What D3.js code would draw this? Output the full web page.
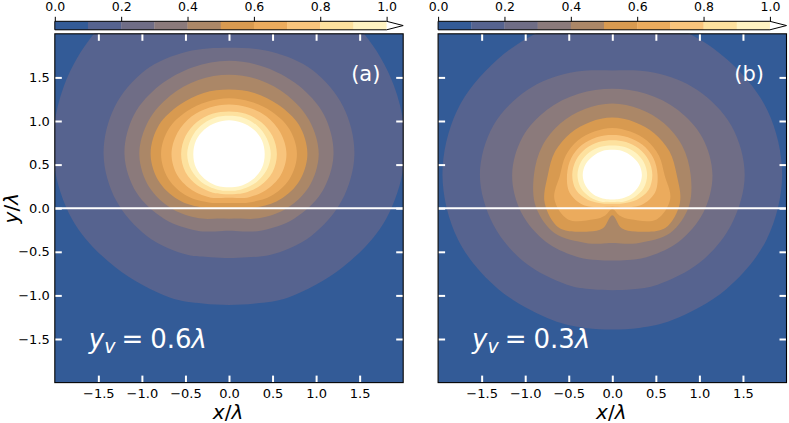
<!DOCTYPE html>
<html><head><meta charset="utf-8">
<script src="https://cdn.jsdelivr.net/npm/d3@7"></script>
<style>body{margin:0;background:#fff}svg{display:block}text{font-family:"DejaVu Sans",sans-serif}</style>
</head><body><svg id="c" width="789" height="423"></svg>
<script>
// ---- data ----
const levels = [0.1,0.2,0.3,0.4,0.5,0.6,0.7,0.8,0.9,1.0];
const bandColors = ["#335b97","#56638f","#6f6d86","#8b7a7b","#ab8767","#d89a50","#ebab5d","#f8c47c","#fde19e","#fff3c2","#ffffff"];
const cbBounds = [0,0.1,0.2,0.3,0.4,0.5,0.6,0.7,0.8,0.9,1.0];
const cbTicks = [0,0.2,0.4,0.6,0.8,1.0];
const xTicks = [-1.5,-1,-0.5,0,0.5,1,1.5];
const yTicks = [-1.5,-1,-0.5,0,0.5,1,1.5];
// contour radii (in λ) at these angles (deg, from +x, counter-clockwise); mirrored about x = 0
const angles = [-90,-80,-67.5,-45,-22.5,0,22.5,45,67.5,90];
const centerA = [0,0.62];
const radiiA = [
  [1.73,1.74,1.78,1.84,1.95,2.02,2.05,2.08,2.10,2.10],
  [1.19,1.20,1.25,1.33,1.40,1.44,1.42,1.36,1.27,1.22],
  [0.88,0.90,0.95,1.05,1.15,1.20,1.18,1.12,1.08,1.07],
  [0.74,0.75,0.80,0.90,0.99,1.03,1.00,0.95,0.92,0.91],
  [0.62,0.63,0.67,0.77,0.86,0.90,0.87,0.80,0.76,0.74],
  [0.56,0.57,0.60,0.68,0.75,0.78,0.75,0.69,0.65,0.64],
  [0.50,0.51,0.54,0.59,0.64,0.66,0.64,0.61,0.58,0.57],
  [0.46,0.465,0.48,0.51,0.54,0.55,0.54,0.52,0.50,0.49],
  [0.42,0.425,0.43,0.45,0.47,0.48,0.47,0.46,0.45,0.44],
  [0.38,0.383,0.39,0.40,0.41,0.41,0.41,0.40,0.39,0.39]
];
const centerB = [0,0.38];
const radiiB = [
  [1.77,1.78,1.80,1.85,1.92,1.95,1.93,1.87,1.84,1.82],
  [1.32,1.33,1.36,1.42,1.48,1.52,1.48,1.38,1.27,1.20],
  [0.98,0.99,1.02,1.08,1.13,1.15,1.12,1.06,1.01,0.99],
  [0.78,0.80,0.84,0.94,0.95,0.90,0.87,0.84,0.82,0.82],
  [0.46,0.62,0.70,0.86,0.84,0.74,0.71,0.68,0.66,0.66],
  [0.39,0.47,0.55,0.72,0.72,0.60,0.58,0.56,0.54,0.54],
  [0.36,0.37,0.40,0.48,0.53,0.52,0.51,0.49,0.47,0.46],
  [0.33,0.335,0.35,0.40,0.45,0.46,0.45,0.43,0.41,0.40],
  [0.31,0.312,0.33,0.36,0.39,0.40,0.39,0.37,0.35,0.34],
  [0.28,0.282,0.29,0.31,0.33,0.34,0.33,0.31,0.30,0.29]
];
const panelLabels = ["(a)","(b)"];
const yvValues = ["0.6","0.3"];

// ---- drawing ----
const svg = d3.select("#c");
const defs = svg.append("defs");
const Y0 = 33.8, Y1 = 382.6;
const panels = [
  {x0:54.8, x1:403.2, center:centerA, radii:radiiA, showY:true},
  {x0:438.1, x1:786.5, center:centerB, radii:radiiB, showY:false}
];
const fmt = v => d3.format(".1f")(v).replace("-","\u2212");

panels.forEach((p,pi)=>{
  const x = d3.scaleLinear().domain([-2,2]).range([p.x0,p.x1]);
  const y = d3.scaleLinear().domain([-2,2]).range([Y1,Y0]);
  defs.append("clipPath").attr("id","clip"+pi).append("rect")
    .attr("x",p.x0).attr("y",Y0).attr("width",p.x1-p.x0).attr("height",Y1-Y0);
  const plot = svg.append("g").attr("clip-path",`url(#clip${pi})`);
  plot.append("rect").attr("x",p.x0).attr("y",Y0).attr("width",p.x1-p.x0).attr("height",Y1-Y0)
    .attr("fill",bandColors[0]);
  const line = d3.line().x(d=>x(d[0])).y(d=>y(d[1])).curve(d3.curveCatmullRomClosed.alpha(0.5));
  levels.forEach((lv,i)=>{
    const rs = p.radii[i], pts = [];
    angles.forEach((a,k)=>{const t=a*Math.PI/180; pts.push([p.center[0]+rs[k]*Math.cos(t), p.center[1]+rs[k]*Math.sin(t)]);});
    for(let k=angles.length-2;k>=1;k--){const t=angles[k]*Math.PI/180; pts.push([p.center[0]-rs[k]*Math.cos(t), p.center[1]+rs[k]*Math.sin(t)]);}
    plot.append("path").attr("d",line(pts)).attr("fill",bandColors[i+1]);
  });
  plot.append("line").attr("x1",p.x0).attr("x2",p.x1).attr("y1",y(0)).attr("y2",y(0))
    .attr("stroke","#fff").attr("stroke-width",2);

  const styleAx = g => { g.select(".domain").remove(); g.selectAll(".tick line").attr("stroke","#fff").attr("stroke-width",2);
    g.selectAll(".tick text").attr("fill","#000").attr("font-size","13px").attr("font-family","DejaVu Sans"); };
  svg.append("g").attr("transform",`translate(0,${Y1})`)
    .call(d3.axisBottom(x).tickValues(xTicks).tickSize(-7).tickPadding(6.5).tickFormat(fmt)).call(styleAx);
  svg.append("g").attr("transform",`translate(0,${Y0})`)
    .call(d3.axisTop(x).tickValues(xTicks).tickSize(-7).tickFormat("")).call(styleAx);
  svg.append("g").attr("transform",`translate(${p.x0},0)`)
    .call(d3.axisLeft(y).tickValues(yTicks).tickSize(-7).tickPadding(5).tickFormat(p.showY?fmt:"")).call(styleAx);
  svg.append("g").attr("transform",`translate(${p.x1},0)`)
    .call(d3.axisRight(y).tickValues(yTicks).tickSize(-7).tickFormat("")).call(styleAx);
  svg.append("rect").attr("x",p.x0).attr("y",Y0).attr("width",p.x1-p.x0).attr("height",Y1-Y0)
    .attr("fill","none").attr("stroke","#000").attr("stroke-width",1.1);

  svg.append("text").attr("x",p.x0+311).attr("y",81).attr("text-anchor","middle")
    .attr("fill","#fff").attr("font-size","21px").text(panelLabels[pi]);
  const t = svg.append("text").attr("x",p.x0+34).attr("y",348).attr("fill","#fff").attr("font-size","26px");
  t.append("tspan").attr("font-style","italic").text("y");
  t.append("tspan").attr("font-style","italic").attr("font-size","19px").attr("dy",5).text("v");
  t.append("tspan").attr("dy",-5).attr("dx",6).text("=");
  t.append("tspan").attr("dx",7).text(yvValues[pi]);
  t.append("tspan").attr("font-style","italic").text("\u03bb");

  const xl = svg.append("text").attr("x",x(0)-1).attr("y",419).attr("text-anchor","middle").attr("font-size","20px");
  xl.append("tspan").attr("font-style","italic").text("x");
  xl.append("tspan").text("/");
  xl.append("tspan").attr("font-style","italic").text("\u03bb");
  if(p.showY){
    const yl = svg.append("text").attr("transform",`translate(18,${y(0)}) rotate(-90)`).attr("text-anchor","middle").attr("font-size","20px");
    yl.append("tspan").attr("font-style","italic").text("y");
    yl.append("tspan").text("/");
    yl.append("tspan").attr("font-style","italic").text("\u03bb");
  }

  const cbTop = 21.3, cbBot = 29.8, cbMid = (cbTop+cbBot)/2;
  const cbx = d3.scaleLinear().domain([0,1]).range([p.x0, p.x0 + (p.x1-p.x0)/1.05]);
  const cb = svg.append("g");
  cb.selectAll("rect").data(d3.range(cbBounds.length-1)).join("rect")
    .attr("x",i=>cbx(cbBounds[i])).attr("y",cbTop).attr("width",i=>cbx(cbBounds[i+1])-cbx(cbBounds[i])+0.3)
    .attr("height",cbBot-cbTop).attr("fill",i=>bandColors[i]);
  cb.append("path").attr("d",`M${cbx(1)},${cbTop}L${p.x1},${cbMid}L${cbx(1)},${cbBot}Z`).attr("fill",bandColors[10]);
  cb.append("path").attr("d",`M${cbx(0)},${cbTop}L${cbx(1)},${cbTop}L${p.x1},${cbMid}L${cbx(1)},${cbBot}L${cbx(0)},${cbBot}Z`)
    .attr("fill","none").attr("stroke","#000").attr("stroke-width",1);
  svg.append("g").attr("transform",`translate(0,${cbTop})`)
    .call(d3.axisTop(cbx).tickValues(cbTicks).tickSize(4.5).tickPadding(6).tickFormat(d3.format(".1f")))
    .call(g=>{g.select(".domain").remove(); g.selectAll(".tick line").attr("stroke","#000").attr("stroke-width",1);
      g.selectAll(".tick text").attr("font-size","12.5px").attr("font-family","DejaVu Sans").attr("fill","#000");});
});
</script></body></html>
